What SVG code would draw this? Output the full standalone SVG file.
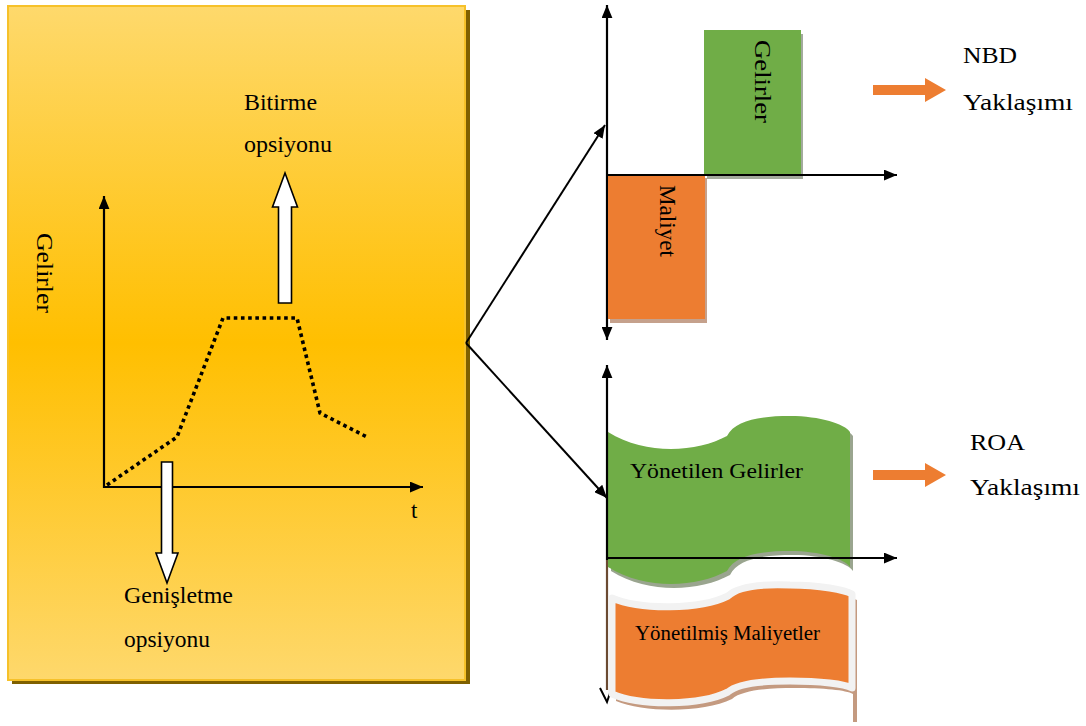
<svg xmlns="http://www.w3.org/2000/svg" width="1086" height="726" viewBox="0 0 1086 726">
  <defs>
    <linearGradient id="goldFill" x1="0" y1="0" x2="0" y2="1">
      <stop offset="0" stop-color="#fed96c"/>
      <stop offset="0.5" stop-color="#ffbf00"/>
      <stop offset="1" stop-color="#fed86c"/>
    </linearGradient>
    <marker id="head" viewBox="0 0 12 10" refX="12" refY="5" markerWidth="13" markerHeight="11" markerUnits="userSpaceOnUse" orient="auto-start-reverse">
      <path d="M0,0 L12,5 L0,10 Z" fill="#000"/>
    </marker>
    <style>
      .t { font-family: "Liberation Serif", "Times New Roman", serif; fill: #000; }
      .axis { stroke: #000; stroke-width: 2.2; fill: none; }
      .link { stroke: #000; stroke-width: 2; fill: none; }
      .hollow { fill: #fff; stroke: #000; stroke-width: 1.6; stroke-linejoin: miter; }
      .orangeArrow { fill: #ed7d31; }
    </style>
  </defs>

  <rect width="1086" height="726" fill="#fff"/>

  <!-- left panel: revenue curve with options -->
  <g id="option-panel">
    <rect x="12" y="10" width="458" height="674" fill="#7f6000"/>
    <rect x="8" y="6" width="457" height="674" fill="url(#goldFill)" stroke="#f6c12a" stroke-width="2"/>
    <line class="axis" x1="104" y1="488" x2="104" y2="196" stroke-width="2.8" marker-end="url(#head)"/>
    <line class="axis" x1="103" y1="487" x2="423" y2="487" stroke-width="2.8" marker-end="url(#head)"/>
    <path d="M107,485 L177,437 L223,318 L297,318 L320,413 L367,437" fill="none" stroke="#000" stroke-width="3.6" stroke-dasharray="3.6 3.6"/>
    <text class="t" transform="translate(37,233) rotate(90)" font-size="23" textLength="80" lengthAdjust="spacingAndGlyphs">Gelirler</text>
    <text class="t" x="411" y="518" font-size="23">t</text>
  </g>

  <g id="exit-option">
    <path class="hollow" d="M278.5,303 L278.5,207 L272.5,207 L285,173 L297.5,207 L291.5,207 L291.5,303 Z"/>
    <text class="t" x="244" y="110" font-size="23" textLength="73" lengthAdjust="spacingAndGlyphs">Bitirme</text>
    <text class="t" x="244" y="152" font-size="23" textLength="88" lengthAdjust="spacingAndGlyphs">opsiyonu</text>
  </g>

  <g id="expansion-option">
    <path class="hollow" d="M161.5,462 L172.5,462 L172.5,553 L178,553 L167,583 L156,553 L161.5,553 Z"/>
    <text class="t" x="124" y="603" font-size="23" textLength="109" lengthAdjust="spacingAndGlyphs">Genişletme</text>
    <text class="t" x="124" y="647" font-size="23" textLength="86" lengthAdjust="spacingAndGlyphs">opsiyonu</text>
  </g>

  <!-- connectors from the panel to both charts -->
  <g id="connectors">
    <line class="link" x1="466" y1="343" x2="605" y2="125" marker-end="url(#head)"/>
    <line class="link" x1="466" y1="343" x2="607" y2="498" marker-end="url(#head)"/>
  </g>

  <!-- NPV chart -->
  <g id="npv-chart">
    <line class="axis" x1="607" y1="340" x2="607" y2="5" marker-start="url(#head)" marker-end="url(#head)"/>
    <rect x="707" y="34" width="96" height="145" fill="#a3aa9d"/>
    <rect x="704" y="30" width="97" height="145" fill="#70ad47"/>
    <rect x="610" y="178" width="97" height="145" fill="#c5a18c"/>
    <rect x="608" y="175" width="97" height="144" fill="#ed7d31"/>
    <line class="axis" x1="606" y1="175" x2="897" y2="175" marker-end="url(#head)"/>
    <text class="t" transform="translate(755,40) rotate(90)" font-size="23" textLength="83" lengthAdjust="spacingAndGlyphs">Gelirler</text>
    <text class="t" transform="translate(660,185) rotate(90)" font-size="23" textLength="72" lengthAdjust="spacingAndGlyphs">Maliyet</text>
  </g>

  <g id="npv-label">
    <path class="orangeArrow" d="M873,85 L925,85 L925,78 L946,90 L925,102 L925,95 L873,95 Z"/>
    <text class="t" x="963" y="63" font-size="23" textLength="54" lengthAdjust="spacingAndGlyphs">NBD</text>
    <text class="t" x="963" y="110" font-size="23" textLength="110" lengthAdjust="spacingAndGlyphs">Yaklaşımı</text>
  </g>

  <!-- real options chart -->
  <g id="roa-chart">
    <line x1="607" y1="560" x2="607" y2="690" stroke="#6b4a32" stroke-width="2.2"/>
    <path d="M600,688 L607,702 L611,690" fill="none" stroke="#000" stroke-width="2"/>
    <!-- managed costs wave -->
    <path d="M616,604 C644,616 704,616 732,602 C742,592 769,590 794,591 C824,591 849,596 857,600 L857,722 L853,722 L853,694 C846,690 824,688 794,688 C769,688 742,690 732,699 C704,713 644,713 616,701 Z" fill="#c49a80"/>
    <path d="M612,598 C640,610 700,610 728,596 C738,586 765,584 790,585 C820,585 845,590 852,594 L852,688 C845,684 820,681 790,681 C765,681 738,683 728,692 C700,706 640,706 612,694 Z" fill="#ed7d31" stroke="#f2f2f2" stroke-width="7" stroke-linejoin="round"/>
    <!-- managed revenues wave -->
    <path d="M611,436 C650,460 700,456 730,440 C738,424 763,420 793,420 C823,420 848,428 853,436 L853,571 C848,563 823,555 793,555 C763,555 738,559 730,575 C700,591 650,595 611,571 Z" fill="#9aa58f"/>
    <path d="M608,432 C647,456 697,452 727,436 C735,420 760,416 790,416 C820,416 845,424 850,432 L850,567 C845,559 820,551 790,551 C760,551 735,555 727,571 C697,587 647,591 608,567 Z" fill="#70ad47"/>
    <line class="axis" x1="607" y1="560" x2="607" y2="365" marker-end="url(#head)"/>
    <line class="axis" x1="606" y1="558" x2="897" y2="558" marker-end="url(#head)"/>
    <text class="t" x="630" y="478" font-size="22" textLength="173" lengthAdjust="spacingAndGlyphs">Yönetilen Gelirler</text>
    <text class="t" x="635" y="640" font-size="20" textLength="185" lengthAdjust="spacingAndGlyphs">Yönetilmiş Maliyetler</text>
  </g>

  <g id="roa-label">
    <path class="orangeArrow" d="M873,470 L925,470 L925,463 L946,475 L925,487 L925,480 L873,480 Z"/>
    <text class="t" x="970" y="450" font-size="23" textLength="55" lengthAdjust="spacingAndGlyphs">ROA</text>
    <text class="t" x="970" y="495" font-size="23" textLength="110" lengthAdjust="spacingAndGlyphs">Yaklaşımı</text>
  </g>
</svg>
